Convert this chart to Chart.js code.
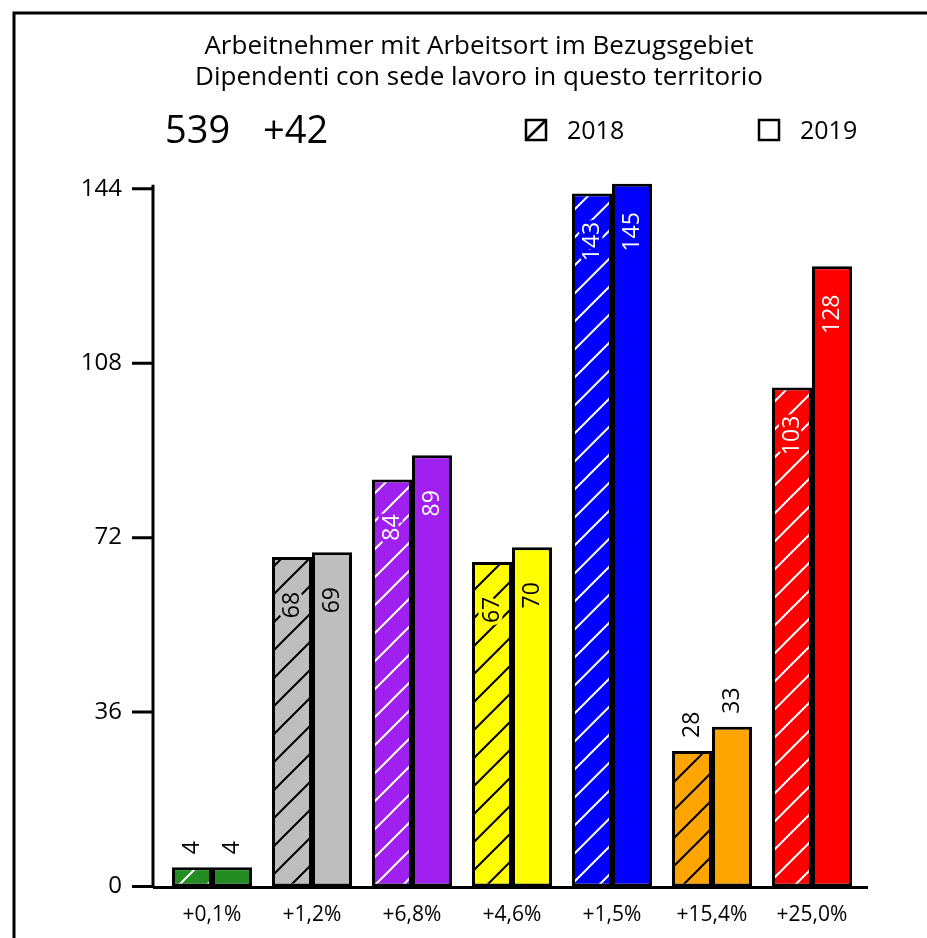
<!DOCTYPE html>
<html>
<head>
<meta charset="utf-8">
<script src="https://cdn.jsdelivr.net/npm/chart.js@4"></script>
<style>
  html, body { margin:0; padding:0; background:#fff; overflow:hidden; }
  canvas { display:block; }
</style>
</head>
<body>
<canvas id="chart" width="927" height="941"></canvas>
<script>
// data
const categories = ['+0,1%','+1,2%','+6,8%','+4,6%','+1,5%','+15,4%','+25,0%'];
const values2018 = [4, 68, 84, 67, 143, 28, 103];
const values2019 = [4, 69, 89, 70, 145, 33, 128];
const barColors = ['#228b22','#bebebe','#a020f0','#ffff00','#0000ff','#ffa500','#ff0000'];
const lightBars = ['#bebebe','#ffff00','#ffa500'];
const yTicks = [0, 36, 72, 108, 144];
const seriesNames = ['2018', '2019'];
const titleLines = ['Arbeitnehmer mit Arbeitsort im Bezugsgebiet', 'Dipendenti con sede lavoro in questo territorio'];
const totalText = '539';
const diffText = '+42';

const FONT = "'Open Sans', sans-serif";

function hatch(color, lineColor) {
    const s = 28;
    const c = document.createElement('canvas');
    c.width = s; c.height = s;
    const g = c.getContext('2d');
    g.fillStyle = color;
    g.fillRect(0, 0, s, s);
    g.strokeStyle = lineColor;
    g.lineWidth = 2;
    g.beginPath();
    g.moveTo(0, s); g.lineTo(s, 0);
    g.moveTo(-2, 2); g.lineTo(2, -2);
    g.moveTo(s-2, s+2); g.lineTo(s+2, s-2);
    g.stroke();
    return g.createPattern(c, 'repeat');
}

const hatchFills = barColors.map(c => hatch(c, lightBars.includes(c) ? '#000' : '#fff'));

// frame, header texts, legend
const headerPlugin = {
    id: 'header',
    afterDraw(chart) {
        const ctx = chart.ctx;
        ctx.save();
        ctx.strokeStyle = '#000';
        ctx.lineWidth = 3;
        ctx.beginPath();
        ctx.moveTo(14, 945); ctx.lineTo(14, 13); ctx.lineTo(930, 13);
        ctx.stroke();

        ctx.fillStyle = '#000';
        ctx.textBaseline = 'alphabetic';
        ctx.textAlign = 'center';
        ctx.font = '26px ' + FONT;
        ctx.fillText(titleLines[0], 479, 54);
        ctx.fillText(titleLines[1], 479, 85);

        ctx.textAlign = 'left';
        ctx.font = '38px ' + FONT;
        ctx.fillText(totalText, 165, 143);
        ctx.fillText(diffText, 263, 143);

        // legend
        ctx.lineWidth = 2.5;
        ctx.strokeRect(526, 120, 20, 20);
        ctx.beginPath();
        ctx.moveTo(526, 140); ctx.lineTo(546, 120);
        ctx.stroke();
        ctx.strokeRect(759, 120, 20, 20);
        ctx.font = '25px ' + FONT;
        ctx.fillText(seriesNames[0], 567, 139);
        ctx.fillText(seriesNames[1], 800, 139);
        ctx.restore();
    }
};

// axis lines and tick marks
const axisPlugin = {
    id: 'axes',
    afterDatasetsDraw(chart) {
        const ctx = chart.ctx;
        const y = chart.scales.y;
        const ax = 153;
        const y0 = y.getPixelForValue(0) + 1;
        ctx.save();
        ctx.strokeStyle = '#000';
        ctx.lineWidth = 3;
        ctx.beginPath();
        ctx.moveTo(ax, y.getPixelForValue(yTicks[yTicks.length-1]) - 4);
        ctx.lineTo(ax, y0);
        ctx.moveTo(ax, y0);
        ctx.lineTo(868, y0);
        yTicks.forEach(v => {
            const p = y.getPixelForValue(v);
            ctx.moveTo(132, p); ctx.lineTo(ax, p);
        });
        ctx.stroke();
        ctx.restore();
    }
};

// rotated value labels
const labelPlugin = {
    id: 'labels',
    afterDatasetsDraw(chart) {
        const ctx = chart.ctx;
        ctx.save();
        ctx.font = '23px ' + FONT;
        ctx.textBaseline = 'middle';
        chart.data.datasets.forEach((ds, di) => {
            chart.getDatasetMeta(di).data.forEach((el, i) => {
                const v = ds.data[i];
                const h = el.base - el.y;
                const col = barColors[i];
                ctx.save();
                if (h > 200) {
                    ctx.translate(el.x, el.y + 48);
                    ctx.rotate(-Math.PI / 2);
                    ctx.textAlign = 'center';
                    if (di === 0) {
                        ctx.strokeStyle = col;
                        ctx.lineWidth = 7;
                        ctx.strokeText(String(v), 0, 0);
                    }
                    ctx.fillStyle = lightBars.includes(col) ? '#000' : '#fff';
                    ctx.fillText(String(v), 0, 0);
                } else {
                    ctx.translate(el.x, el.y - 13);
                    ctx.rotate(-Math.PI / 2);
                    ctx.textAlign = 'left';
                    ctx.fillStyle = '#000';
                    ctx.fillText(String(v), 0, 0);
                }
                ctx.restore();
            });
        });
        ctx.restore();
    }
};

new Chart(document.getElementById('chart'), {
    type: 'bar',
    data: {
        labels: categories,
        datasets: [
            { label: seriesNames[0], data: values2018, backgroundColor: hatchFills,
              borderColor: '#000', borderWidth: 3, borderSkipped: false,
              categoryPercentage: 0.8, barPercentage: 1.0 },
            { label: seriesNames[1], data: values2019, backgroundColor: barColors,
              borderColor: '#000', borderWidth: 3, borderSkipped: false,
              categoryPercentage: 0.8, barPercentage: 1.0 }
        ]
    },
    options: {
        responsive: false,
        animation: false,
        layout: { padding: { top: 179, right: 65, bottom: 0, left: 0 } },
        plugins: { legend: { display: false }, title: { display: false }, tooltip: { enabled: false } },
        scales: {
            x: {
                grid: { display: false, drawTicks: false },
                border: { display: false },
                ticks: { color: '#000', font: { size: 21, family: FONT }, padding: 16, maxRotation: 0 },
                afterFit(scale) { scale.height = 47; }
            },
            y: {
                min: 0, max: 146,
                grid: { display: false, drawTicks: false },
                border: { display: false },
                ticks: { color: '#000', font: { size: 24, family: FONT }, padding: 40 },
                afterBuildTicks(scale) { scale.ticks = yTicks.map(v => ({ value: v })); },
                afterFit(scale) { scale.width = 162; }
            }
        }
    },
    plugins: [headerPlugin, axisPlugin, labelPlugin]
});
</script>
</body>
</html>
